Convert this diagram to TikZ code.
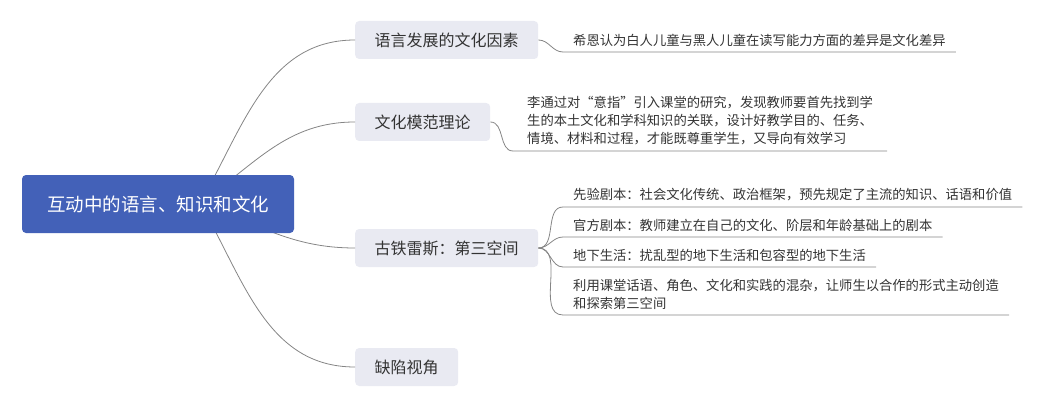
\documentclass[tikz,border=0pt]{standalone}
\usepackage{fontspec}
\setmainfont{Noto Sans CJK SC}
\definecolor{rootblue}{HTML}{4361B8}
\definecolor{boxgray}{HTML}{E9EAF2}
\definecolor{inkgray}{HTML}{333333}
\definecolor{linkgray}{HTML}{858585}

\begin{document}
\begin{tikzpicture}[x=1pt,y=1pt,
  topic/.style={fill=rootblue, text=white, rounded corners=4pt,
    minimum width=272pt, minimum height=58pt, font=\fontsize{18.5}{22}\selectfont},
  branch/.style={fill=boxgray, text=inkgray, rounded corners=4pt, anchor=west,
    inner xsep=19.5pt, minimum height=38pt, font=\fontsize{16}{19}\selectfont},
  leaf/.style={anchor=south west, text=inkgray, inner xsep=10pt, inner ysep=5.5pt,
    align=left, font=\fontsize{13.3}{18}\selectfont},
  link/.style={draw=linkgray, line width=0.8pt}]
  \useasboundingbox (0,0) rectangle (1044,405);

  % branches
  \coordinate (hub) at (200,202);
  \node[branch] (b1) at (355,365) {语言发展的文化因素};
  \node[branch] (b2) at (355,283) {文化模范理论};
  \node[branch] (b3) at (355,157) {古铁雷斯：第三空间};
  \node[branch] (b4) at (355,38) {缺陷视角};

  % leaves
  \node[leaf] (l1) at (563,353) {希恩认为白人儿童与黑人儿童在读写能力方面的差异是文化差异};
  \node[leaf, inner xsep=14pt] (l2) at (513,254) {李通过对“意指”引入课堂的研究，发现教师要首先找到学\\
    生的本土文化和学科知识的关联，设计好教学目的、任务、\\
    情境、材料和过程，才能既尊重学生，又导向有效学习};
  \node[leaf] (l3a) at (563,198) {先验剧本：社会文化传统、政治框架，预先规定了主流的知识、话语和价值};
  \node[leaf] (l3b) at (563,168) {官方剧本：教师建立在自己的文化、阶层和年龄基础上的剧本};
  \node[leaf] (l3c) at (563,138) {地下生活：扰乱型的地下生活和包容型的地下生活};
  \node[leaf] (l3d) at (563,90) {利用课堂话语、角色、文化和实践的混杂，让师生以合作的形式主动创造\\
    和探索第三空间};

  % connectors
  \draw[link] (hub) to[out=60,in=180] (b1.west);
  \draw[link] (hub) to[out=35,in=180] (b2.west);
  \draw[link] (hub) to[out=-20,in=180] (b3.west);
  \draw[link] (hub) to[out=-60,in=180] (b4.west);
  \draw[link] (b1.east) to[out=0,in=180] (l1.south west) -- (l1.south east);
  \draw[link] (b2.east) to[out=0,in=180] (l2.south west) -- (l2.south east);
  \foreach \n in {l3a,l3b,l3c,l3d}
    \draw[link] (b3.east) to[out=0,in=180] (\n.south west) -- (\n.south east);

  % root on top
  \node[topic] (root) at (158,201) {互动中的语言、知识和文化};
\end{tikzpicture}
\end{document}
